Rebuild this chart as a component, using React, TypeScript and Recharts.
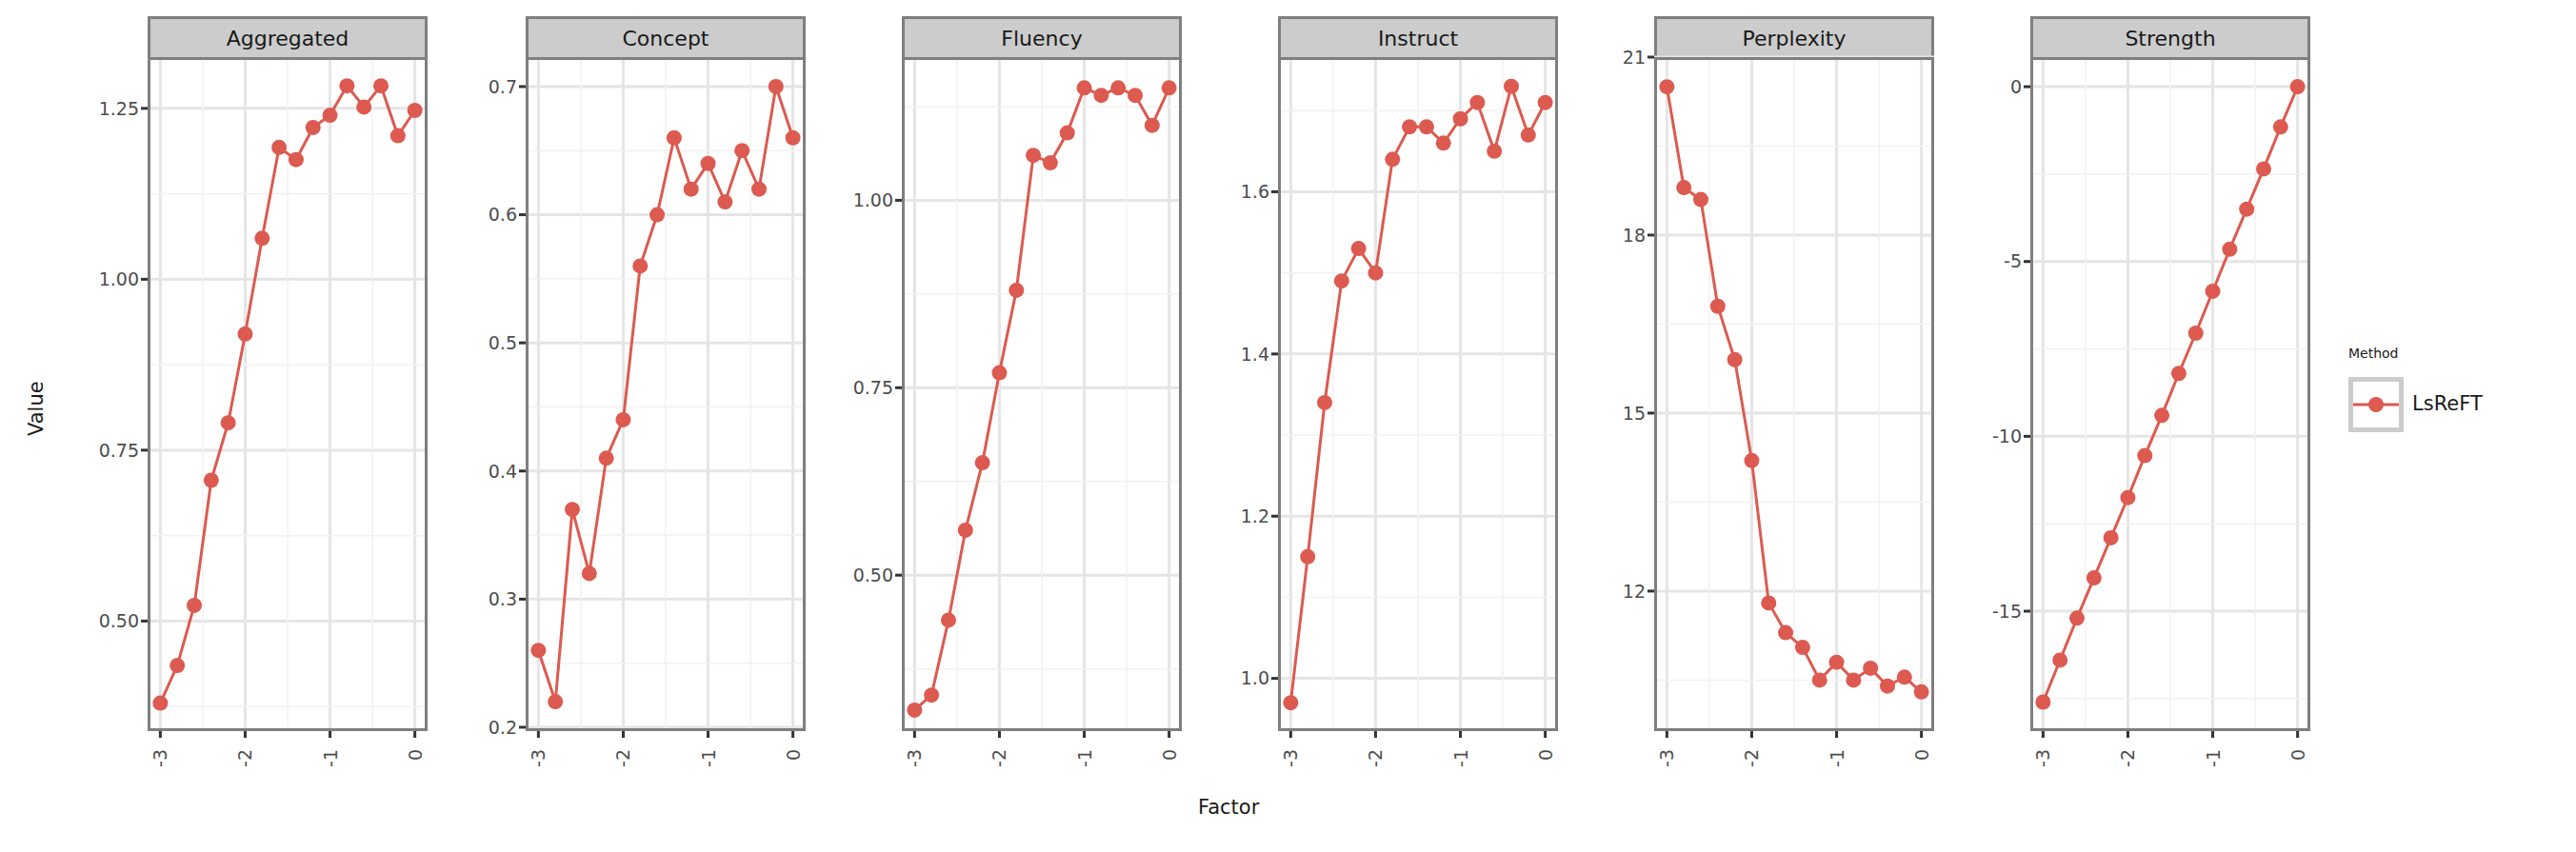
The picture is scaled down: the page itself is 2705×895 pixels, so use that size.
import React from 'react';
import { LineChart, Line, XAxis, YAxis, CartesianGrid, ReferenceLine } from 'recharts';

const factors = [-3, -2.8, -2.6, -2.4, -2.2, -2, -1.8, -1.6, -1.4, -1.2, -1, -0.8, -0.6, -0.4, -0.2, 0];

const aggregated = [0.38, 0.435, 0.523, 0.706, 0.79, 0.92, 1.06, 1.193, 1.175, 1.222, 1.24, 1.283, 1.252, 1.283, 1.21, 1.247];
const concept = [0.26, 0.22, 0.37, 0.32, 0.41, 0.44, 0.56, 0.6, 0.66, 0.62, 0.64, 0.61, 0.65, 0.62, 0.7, 0.66];
const fluency = [0.32, 0.34, 0.44, 0.56, 0.65, 0.77, 0.88, 1.06, 1.05, 1.09, 1.15, 1.14, 1.15, 1.14, 1.1, 1.15];
const instruct = [0.97, 1.15, 1.34, 1.49, 1.53, 1.5, 1.64, 1.68, 1.68, 1.66, 1.69, 1.71, 1.65, 1.73, 1.67, 1.71];
const perplexity = [20.5, 18.8, 18.6, 16.8, 15.9, 14.2, 11.8, 11.3, 11.05, 10.5, 10.8, 10.5, 10.7, 10.4, 10.55, 10.3];
const strength = [-17.6, -16.4, -15.2, -14.05, -12.9, -11.75, -10.55, -9.4, -8.2, -7.05, -5.85, -4.65, -3.5, -2.35, -1.15, 0];

const xTicks = [-3, -2, -1, 0];
const xMinor = [-2.5, -1.5, -0.5];

const panels = [
  { name: 'Aggregated', values: aggregated, domain: [0.339, 1.325], ticks: [0.5, 0.75, 1.0, 1.25], minor: [0.375, 0.625, 0.875, 1.125], fmt: (v: number) => v.toFixed(2) },
  { name: 'Concept', values: concept, domain: [0.197, 0.723], ticks: [0.2, 0.3, 0.4, 0.5, 0.6, 0.7], minor: [0.25, 0.35, 0.45, 0.55, 0.65], fmt: (v: number) => v.toFixed(1) },
  { name: 'Fluency', values: fluency, domain: [0.292, 1.191], ticks: [0.5, 0.75, 1.0], minor: [0.375, 0.625, 0.875, 1.125], fmt: (v: number) => v.toFixed(2) },
  { name: 'Instruct', values: instruct, domain: [0.935, 1.766], ticks: [1.0, 1.2, 1.4, 1.6], minor: [1.1, 1.3, 1.5, 1.7], fmt: (v: number) => v.toFixed(1) },
  { name: 'Perplexity', values: perplexity, domain: [9.64, 21], ticks: [12, 15, 18, 21], minor: [10.5, 13.5, 16.5, 19.5], fmt: (v: number) => String(v) },
  { name: 'Strength', values: strength, domain: [-18.43, 0.846], ticks: [-15, -10, -5, 0], minor: [-17.5, -12.5, -7.5, -2.5], fmt: (v: number) => String(v) },
];

const panelLefts = [155, 552, 947, 1342, 1737, 2132];
const PW = 294;
const STRIP_TOP = 9;
const TOP = 52;
const PH = 708;
const YW = 70;
const PAD = 20;
const RED = '#dc5a50';
const FONT = 'DejaVu Sans, sans-serif';

const XTick = (props: any) => {
  const { x, y, payload } = props;
  return (
    <text x={x} y={y + 10} transform={`rotate(-90 ${x} ${y + 10})`} textAnchor="end" dominantBaseline="central" fontSize={19} fill="#4d4d4d" fontFamily={FONT}>
      {payload.value}
    </text>
  );
};

const Panel = ({ p, left }: any) => {
  const data = factors.map((f, i) => ({ x: f, y: p.values[i] }));
  return (
    <>
      <div style={{ position: 'absolute', left, top: STRIP_TOP, width: PW, height: TOP - STRIP_TOP, background: '#cccccc', border: '3px solid #7f7f7f', borderBottom: 'none', boxSizing: 'border-box', display: 'flex', alignItems: 'center', justifyContent: 'center', fontSize: 22, color: '#1a1a1a', fontFamily: FONT }}>
        {p.name}
      </div>
      <div style={{ position: 'absolute', left: left - YW, top: TOP - PAD }}>
        <LineChart width={PW + YW} height={PH + 80 + PAD} data={data} margin={{ top: PAD, right: 0, bottom: 0, left: 0 }}>
          <CartesianGrid stroke="#e5e5e5" strokeWidth={3} horizontalValues={p.ticks} verticalValues={xTicks} />
          {p.minor.map((m: number) => <ReferenceLine key={'ym' + m} y={m} stroke="#f2f2f2" strokeWidth={1.5} />)}
          {xMinor.map((m) => <ReferenceLine key={'xm' + m} x={m} stroke="#f2f2f2" strokeWidth={1.5} />)}
          <XAxis dataKey="x" type="number" domain={[-3.15, 0.15]} ticks={xTicks} height={80} axisLine={false} tickLine={{ stroke: '#333', strokeWidth: 3 }} tickSize={7} tick={<XTick />} allowDataOverflow />
          <YAxis type="number" domain={p.domain} ticks={p.ticks} width={YW} axisLine={false} tickLine={{ stroke: '#333', strokeWidth: 3 }} tickSize={7} tickFormatter={p.fmt} tick={{ fontSize: 19, fill: '#4d4d4d', fontFamily: FONT }} allowDataOverflow />
          <Line dataKey="y" stroke={RED} strokeWidth={3} dot={{ r: 8, fill: RED, stroke: RED, strokeWidth: 0 }} isAnimationActive={false} />
        </LineChart>
      </div>
      <div style={{ position: 'absolute', left, top: TOP, width: PW, height: PH, border: '3px solid #7f7f7f', boxSizing: 'border-box', pointerEvents: 'none' }} />
    </>
  );
};

export default function App() {
  return (
    <div style={{ position: 'relative', width: 2689, height: 879, background: '#fff', fontFamily: FONT }}>
      {panels.map((p, i) => <Panel key={p.name} p={p} left={panelLefts[i] - 8} />)}
      <div style={{ position: 'absolute', left: 18, top: 450, transform: 'rotate(-90deg)', transformOrigin: 'left top', fontSize: 21, color: '#1a1a1a' }}>Value</div>
      <div style={{ position: 'absolute', left: 1250, top: 828, fontSize: 21, color: '#1a1a1a' }}>Factor</div>
      <div style={{ position: 'absolute', left: 2458, top: 355, fontSize: 14, color: '#1a1a1a' }}>Method</div>
      <div style={{ position: 'absolute', left: 2458, top: 388, width: 58, height: 58, border: '5px solid #cccccc', boxSizing: 'border-box' }}>
        <svg width={48} height={48} style={{ display: 'block' }}>
          <line x1={0} y1={24} x2={48} y2={24} stroke={RED} strokeWidth={3} />
          <circle cx={24} cy={24} r={8} fill={RED} />
        </svg>
      </div>
      <div style={{ position: 'absolute', left: 2525, top: 404, fontSize: 21, color: '#1a1a1a' }}>LsReFT</div>
    </div>
  );
}
